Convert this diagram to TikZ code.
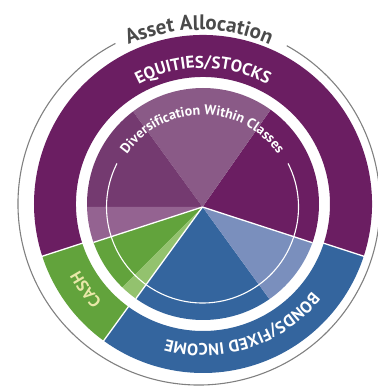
\documentclass[tikz,border=0pt]{standalone}
\usepackage{fontspec}
\setmainfont{PT Sans}
\usetikzlibrary{decorations.text}

\definecolor{eqpurple}{HTML}{6B1E62}
\definecolor{eqlight}{HTML}{8A5A87}
\definecolor{eqmid}{HTML}{743A70}
\definecolor{eqmauve}{HTML}{946391}
\definecolor{cashgreen}{HTML}{62A33C}
\definecolor{cashlight}{HTML}{93C26E}
\definecolor{bondblue}{HTML}{34659E}
\definecolor{bondlight}{HTML}{7A8FBD}
\definecolor{titlegray}{HTML}{4A4A4A}
\definecolor{rimgray}{HTML}{808080}
\definecolor{cashtext}{HTML}{E8E8A8}

\begin{document}
\begin{tikzpicture}[x=1pt, y=1pt, seam/.style={white, line width=1.3pt}]
  \useasboundingbox (0,0) rectangle (378,389);
  \coordinate (c) at (203,185);
  \coordinate (a) at (202.5,182);
  \coordinate (g) at (199,185);

  % thin rim with a gap for the title
  \draw[rimgray, line width=1.1pt] ([shift={(61:181pt)}]g) arc[start angle=61, end angle=-242.5, radius=181pt];
  \path[decorate, decoration={text along path, text align=center,
      text={|\bfseries\fontsize{21}{21}\selectfont\color{titlegray}|Asset Allocation}}]
    ([shift={(150:174pt)}]g) arc[start angle=150, end angle=30, radius=174pt];

  % outer ring: the three classes
  \fill[eqpurple] ([shift={(-18:169pt)}]c) arc[start angle=-18, end angle=198, radius=169pt]
    -- ([shift={(198:127pt)}]c) arc[start angle=198, end angle=-18, radius=127pt] -- cycle;
  \fill[cashgreen] ([shift={(198:169pt)}]c) arc[start angle=198, end angle=234, radius=169pt]
    -- ([shift={(234:127pt)}]c) arc[start angle=234, end angle=198, radius=127pt] -- cycle;
  \fill[bondblue] ([shift={(234:169pt)}]c) arc[start angle=234, end angle=342, radius=169pt]
    -- ([shift={(342:127pt)}]c) arc[start angle=342, end angle=234, radius=127pt] -- cycle;
  \draw[seam] ([shift={(198:126pt)}]c) -- ([shift={(198:170pt)}]c);
  \draw[seam] ([shift={(234:126pt)}]c) -- ([shift={(234:170pt)}]c);
  \draw[seam] ([shift={(342:126pt)}]c) -- ([shift={(342:170pt)}]c);

  \path[decorate, decoration={text along path, text align=center,
      text={|\bfseries\fontsize{17}{17}\selectfont\color{white}|EQUITIES/STOCKS}}]
    ([shift={(150:136pt)}]c) arc[start angle=150, end angle=30, radius=136pt];
  \path[decorate, decoration={text along path, text align=center,
      text={|\bfseries\fontsize{16.5}{16.5}\selectfont\color{white}|BONDS/FIXED INCOME}}]
    ([shift={(-20:140pt)}]c) arc[start angle=-20, end angle=-124, radius=140pt];
  \path[decorate, decoration={text along path, text align=center,
      text={|\bfseries\fontsize{16.5}{16.5}\selectfont\color{cashtext}|CASH}}]
    ([shift={(240:140pt)}]c) arc[start angle=240, end angle=192, radius=140pt];

  % inner pie: diversification within classes
  \begin{scope}
    \clip (c) circle[radius=116pt];
    \fill[eqpurple] (a) -- ++(-18:150pt) arc[start angle=-18, end angle=55, radius=150pt] -- cycle;
    \fill[eqlight] (a) -- ++(55:150pt) arc[start angle=55, end angle=126, radius=150pt] -- cycle;
    \fill[eqmid] (a) -- ++(126:150pt) arc[start angle=126, end angle=180, radius=150pt] -- cycle;
    \fill[eqmauve] (a) -- ++(180:150pt) arc[start angle=180, end angle=198, radius=150pt] -- cycle;
    \fill[cashgreen] (a) -- ++(198:150pt) arc[start angle=198, end angle=225, radius=150pt] -- cycle;
    \fill[cashlight] (a) -- ++(225:150pt) arc[start angle=225, end angle=234, radius=150pt] -- cycle;
    \fill[bondblue] (a) -- ++(234:150pt) arc[start angle=234, end angle=306, radius=150pt] -- cycle;
    \fill[bondlight] (a) -- ++(306:150pt) arc[start angle=306, end angle=342, radius=150pt] -- cycle;
    \draw[seam] (a) -- ++(198:150pt);
    \draw[seam] (a) -- ++(234:150pt);
    \draw[seam] (a) -- ++(342:150pt);
  \end{scope}

  \draw[white, line width=1.1pt] ([shift={(27:96pt)}]a) arc[start angle=27, end angle=-207, radius=96pt];
  \path[decorate, decoration={text along path, text align=center,
      text={|\bfseries\fontsize{14}{14}\selectfont\color{white}|Diversification Within Classes}}]
    ([shift={(170:92pt)}]a) arc[start angle=170, end angle=10, radius=92pt];
\end{tikzpicture}
\end{document}
